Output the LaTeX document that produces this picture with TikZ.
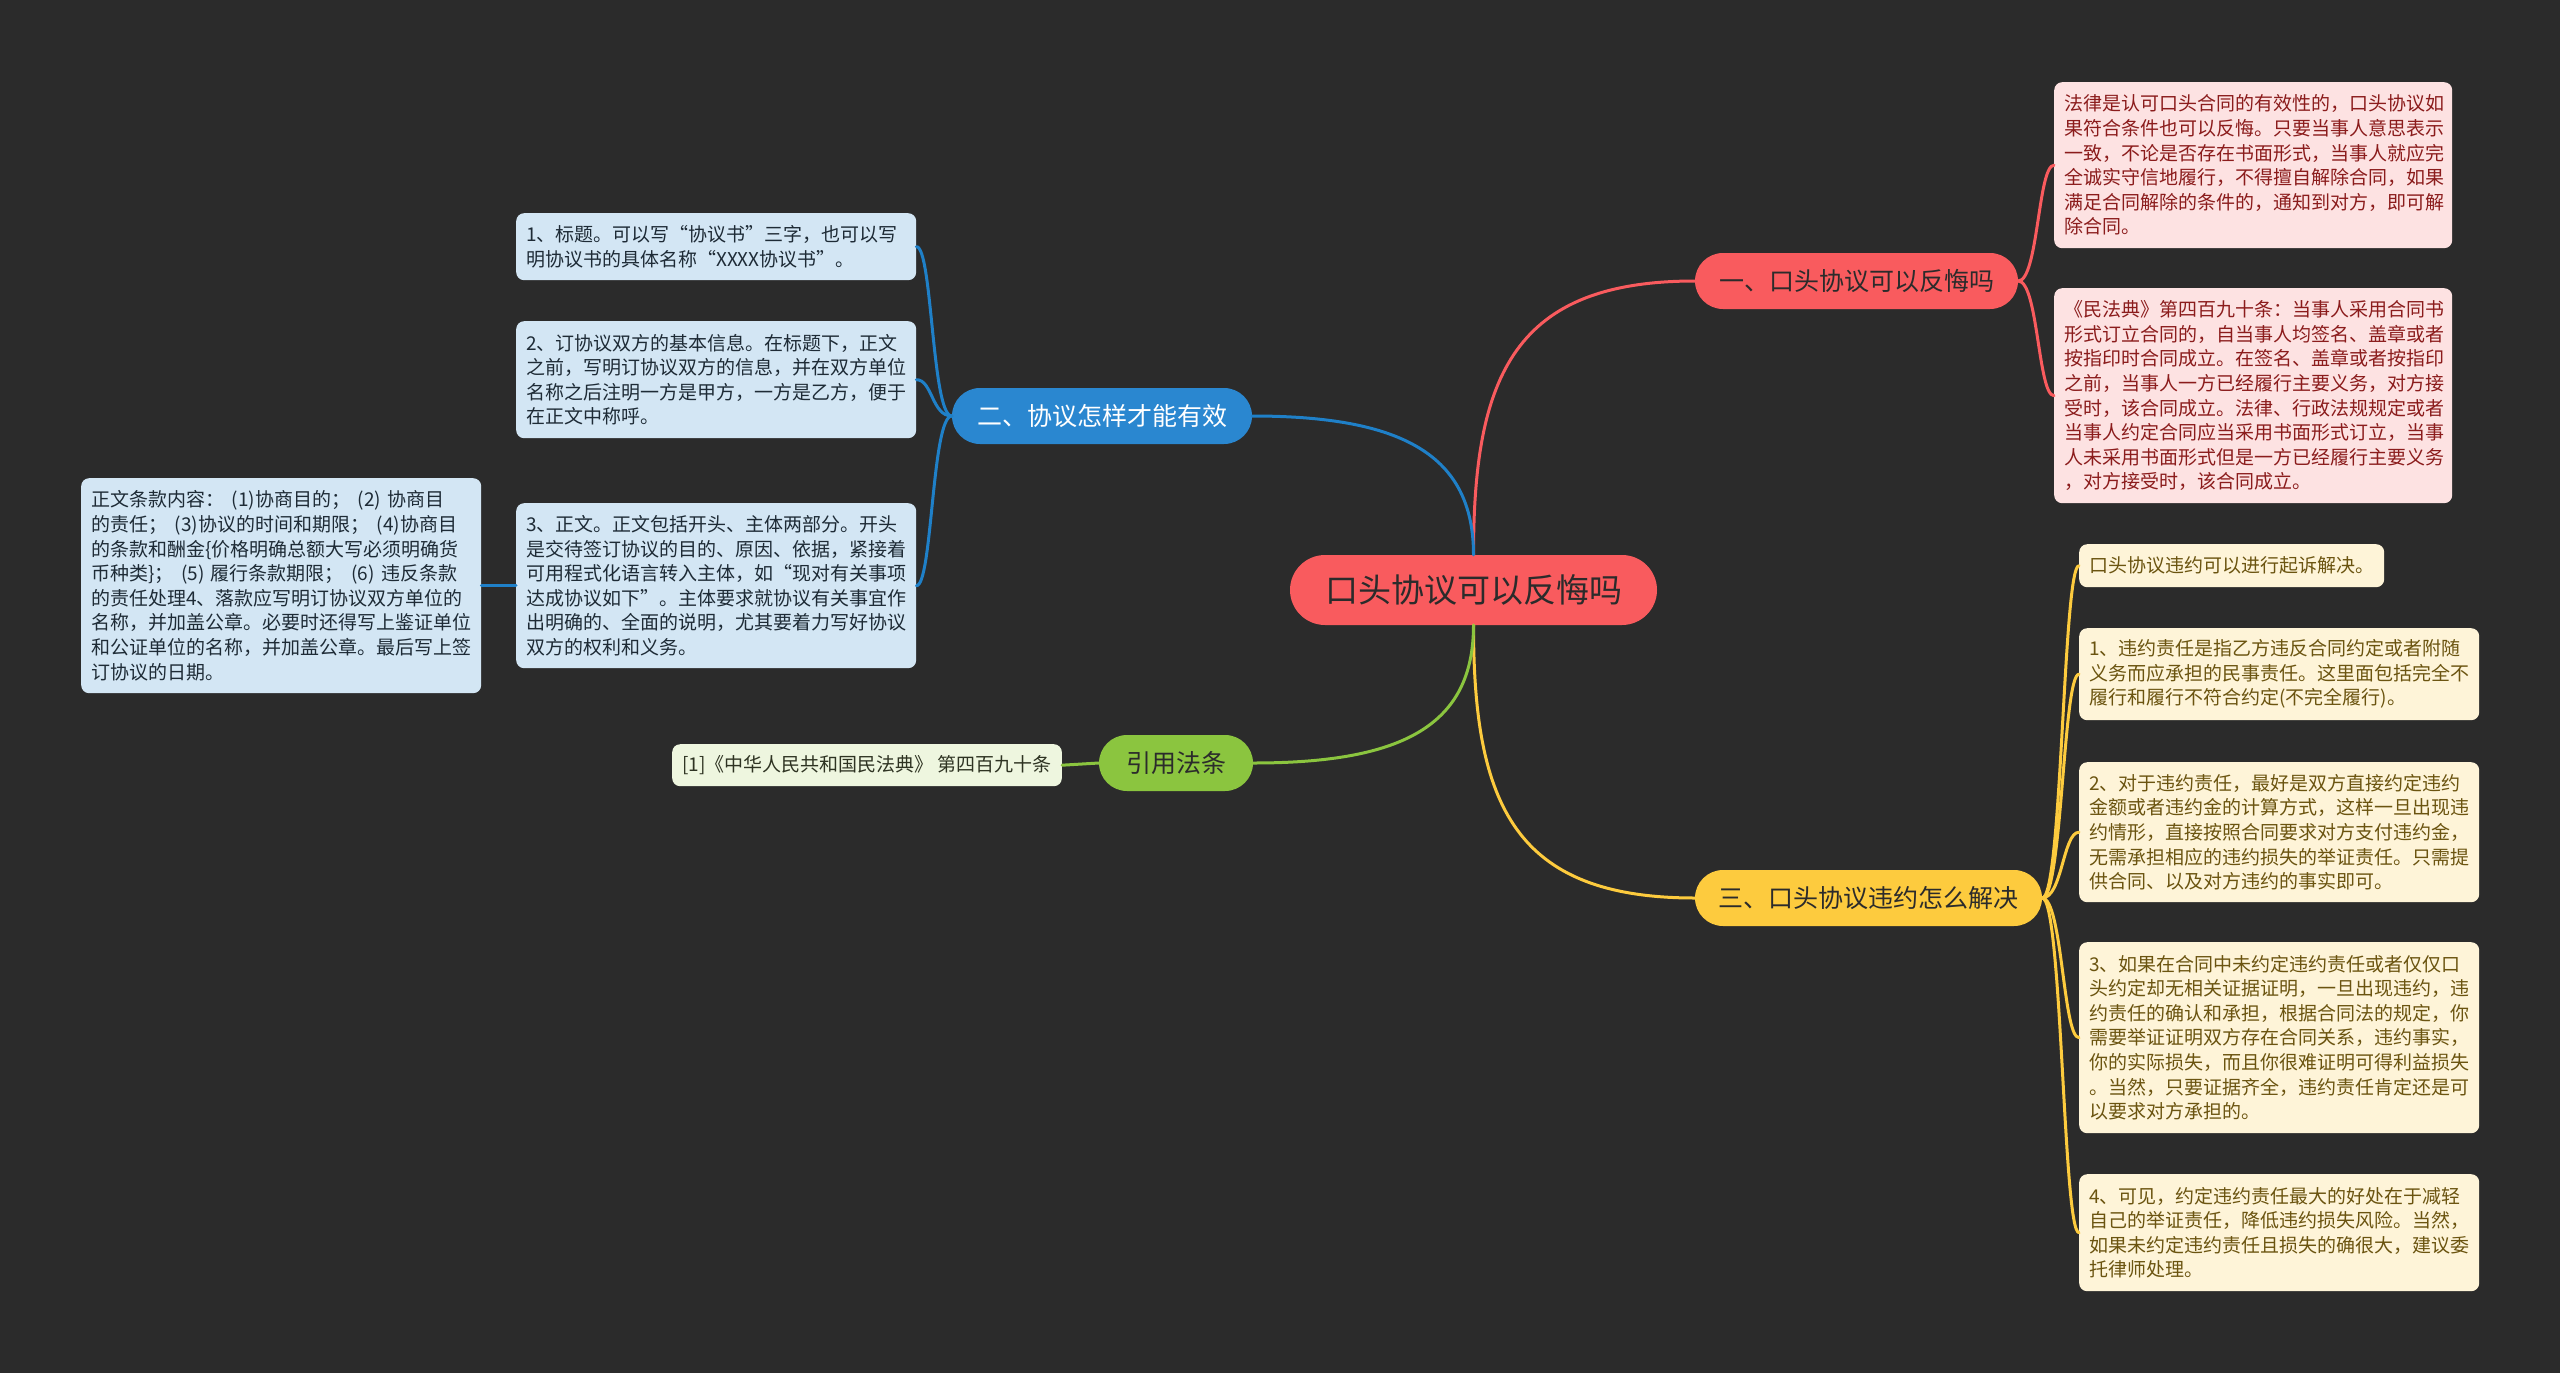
\documentclass[tikz,border=0pt]{standalone}
\usepackage{fontspec}
\setmainfont{Noto Sans CJK SC}
\definecolor{bgc}{HTML}{2B2B2B}
\definecolor{redc}{HTML}{F95B5E}
\definecolor{bluec}{HTML}{2A87D0}
\definecolor{bluel}{HTML}{1F80C8}
\definecolor{yelc}{HTML}{FDCB3E}
\definecolor{grnc}{HTML}{8BC53F}
\definecolor{pinkf}{HTML}{FDE2E2}
\definecolor{pinkt}{HTML}{8B1C1C}
\definecolor{bluef}{HTML}{D3E6F4}
\definecolor{bluet}{HTML}{1E2B36}
\definecolor{grnf}{HTML}{EEF6DF}
\definecolor{grnt}{HTML}{2E3322}
\definecolor{yelf}{HTML}{FEF4D8}
\definecolor{yelt}{HTML}{6B5410}
\definecolor{darkt}{HTML}{2B2B2B}
\tikzset{
  centre/.style={rectangle, rounded corners=35pt, fill=redc, text=darkt, minimum width=367pt, minimum height=70pt, font=\fontsize{33}{40}\selectfont, inner sep=0pt},
  branch/.style={rectangle, rounded corners=28pt, minimum height=56pt, font=\fontsize{25}{30}\selectfont, inner sep=0pt},
  leaf/.style={rectangle, rounded corners=8pt, anchor=north west, text width=380pt, inner xsep=10pt, inner ysep=6pt, align=left, font=\fontsize{19}{24.6}\selectfont},
  shortleaf/.style={rectangle, rounded corners=8pt, anchor=north west, inner xsep=10pt, inner ysep=0pt, align=left, font=\fontsize{19}{24.6}\selectfont},
  conn/.style={line width=3pt, line cap=round},
}
\begin{document}
\begin{tikzpicture}[x=1pt,y=-1pt]
\fill[bgc] (0,0) rectangle (2560,1373);
\useasboundingbox (0,0) rectangle (2560,1373);

% central and main branches
\node[centre] (c) at (1473.5,590) {口头协议可以反悔吗};
\node[branch, fill=redc, text=darkt, minimum width=323pt] (b1) at (1856.5,281) {一、口头协议可以反悔吗};
\node[branch, fill=bluec, text=white, minimum width=300pt] (b2) at (1102,416) {二、协议怎样才能有效};
\node[branch, fill=yelc, text=darkt, minimum width=347pt] (b3) at (1868.5,898) {三、口头协议违约怎么解决};
\node[branch, fill=grnc, text=darkt, minimum width=154pt] (b4) at (1176,763) {引用法条};

% red leaves
\node[leaf, fill=pinkf, text=pinkt, minimum height=166pt, text width=378pt] (r1) at (2054,82) {法律是认可口头合同的有效性的，口头协议如\\果符合条件也可以反悔。只要当事人意思表示\\一致，不论是否存在书面形式，当事人就应完\\全诚实守信地履行，不得擅自解除合同，如果\\满足合同解除的条件的，通知到对方，即可解\\除合同。};
\node[leaf, fill=pinkf, text=pinkt, minimum height=215pt, text width=378pt] (r2) at (2054,288) {《民法典》第四百九十条：当事人采用合同书\\形式订立合同的，自当事人均签名、盖章或者\\按指印时合同成立。在签名、盖章或者按指印\\之前，当事人一方已经履行主要义务，对方接\\受时，该合同成立。法律、行政法规规定或者\\当事人约定合同应当采用书面形式订立，当事\\人未采用书面形式但是一方已经履行主要义务\\，对方接受时，该合同成立。};

% blue leaves
\node[leaf, fill=bluef, text=bluet, minimum height=67pt] (l1) at (516,213) {1、标题。可以写“协议书”三字，也可以写\\明协议书的具体名称“XXXX协议书”。};
\node[leaf, fill=bluef, text=bluet, minimum height=117pt] (l2) at (516,321) {2、订协议双方的基本信息。在标题下，正文\\之前，写明订协议双方的信息，并在双方单位\\名称之后注明一方是甲方，一方是乙方，便于\\在正文中称呼。};
\node[leaf, fill=bluef, text=bluet, minimum height=165pt] (l3) at (516,503) {3、正文。正文包括开头、主体两部分。开头\\是交待签订协议的目的、原因、依据，紧接着\\可用程式化语言转入主体，如“现对有关事项\\达成协议如下”。主体要求就协议有关事宜作\\出明确的、全面的说明，尤其要着力写好协议\\双方的权利和义务。};
\node[leaf, fill=bluef, text=bluet, minimum height=215pt] (l4) at (81,478) {正文条款内容：\hspace{0.4em}(1)协商目的；\hspace{0.4em}(2) 协商目\\的责任；\hspace{0.4em}(3)协议的时间和期限；\hspace{0.4em}(4)协商目\\的条款和酬金\{价格明确总额大写必须明确货\\币种类\}；\hspace{0.4em}(5) 履行条款期限；\hspace{0.4em}(6) 违反条款\\的责任处理4、落款应写明订协议双方单位的\\名称，并加盖公章。必要时还得写上鉴证单位\\和公证单位的名称，并加盖公章。最后写上签\\订协议的日期。};

% green leaf
\node[shortleaf, fill=grnf, text=grnt, minimum height=42pt, minimum width=389pt] (g1) at (672,744) {[1]《中华人民共和国民法典》 第四百九十条};

% yellow leaves
\node[shortleaf, fill=yelf, text=yelt, minimum height=43pt, minimum width=304pt] (y0) at (2079,544) {口头协议违约可以进行起诉解决。};
\node[leaf, fill=yelf, text=yelt, minimum height=92pt] (y1) at (2079,628) {1、违约责任是指乙方违反合同约定或者附随\\义务而应承担的民事责任。这里面包括完全不\\履行和履行不符合约定(不完全履行)。};
\node[leaf, fill=yelf, text=yelt, minimum height=140pt] (y2) at (2079,762) {2、对于违约责任，最好是双方直接约定违约\\金额或者违约金的计算方式，这样一旦出现违\\约情形，直接按照合同要求对方支付违约金，\\无需承担相应的违约损失的举证责任。只需提\\供合同、以及对方违约的事实即可。};
\node[leaf, fill=yelf, text=yelt, minimum height=191pt] (y3) at (2079,942) {3、如果在合同中未约定违约责任或者仅仅口\\头约定却无相关证据证明，一旦出现违约，违\\约责任的确认和承担，根据合同法的规定，你\\需要举证证明双方存在合同关系，违约事实，\\你的实际损失，而且你很难证明可得利益损失\\。当然，只要证据齐全，违约责任肯定还是可\\以要求对方承担的。};
\node[leaf, fill=yelf, text=yelt, minimum height=117pt] (y4) at (2079,1174) {4、可见，约定违约责任最大的好处在于减轻\\自己的举证责任，降低违约损失风险。当然，\\如果未约定违约责任且损失的确很大，建议委\\托律师处理。};

% connectors from centre
\draw[conn, redc] (c.north) .. controls +(0,-180) and +(-180,0) .. (b1.west);
\draw[conn, bluel] (c.north) .. controls +(0,-100) and +(150,0) .. (b2.east);
\draw[conn, yelc] (c.south) .. controls +(0,180) and +(-180,0) .. (b3.west);
\draw[conn, grnc] (c.south) .. controls +(0,100) and +(150,0) .. (b4.east);

% red branch
\foreach \n in {r1,r2}
  \draw[conn, redc] (b1.east) .. controls +(20,0) and +(-16,0) .. (\n.west);
% blue branch
\foreach \n in {l1,l2,l3}
  \draw[conn, bluel] (b2.west) .. controls +(-20,0) and +(16,0) .. (\n.east);
\draw[conn, bluel] (l3.west) -- (l4.east);
% green
\draw[conn, grnc] (b4.west) -- (g1.east);
% yellow
\foreach \n in {y0,y1,y2,y3,y4}
  \draw[conn, yelc] (b3.east) .. controls +(20,0) and +(-16,0) .. (\n.west);
\end{tikzpicture}
\end{document}
